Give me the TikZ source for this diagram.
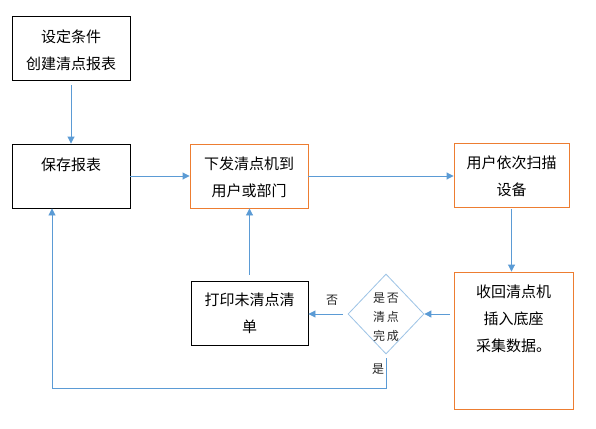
\documentclass[tikz,border=0pt]{standalone}
\usepackage{fontspec}
\setmainfont{Noto Sans CJK SC}
\newfontfamily\cjk{Noto Sans CJK SC}
\usetikzlibrary{shapes.geometric,arrows.meta}
\definecolor{arrblue}{RGB}{91,155,213}
\definecolor{boxorange}{RGB}{237,125,49}
\definecolor{dblue}{RGB}{157,195,230}
\tikzset{
  boxk/.style={draw=black,line width=0.9pt,rectangle,inner sep=0pt},
  boxo/.style={draw=boxorange,line width=0.9pt,rectangle,inner sep=0pt},
  txt/.style={font=\cjk\fontsize{15}{27}\selectfont,align=center,inner sep=0pt},
  small/.style={font=\cjk\fontsize{12}{19}\selectfont,align=center,inner sep=0pt,text=black!85},
  arr/.style={draw=arrblue,line width=0.9pt,-{Triangle[length=7pt,width=7pt]}},
}
\begin{document}
\begin{tikzpicture}[x=1pt,y=-1pt]
\useasboundingbox[fill=white] (0,0) rectangle (596,428);
\node[boxk,minimum width=118pt,minimum height=64pt] (b1) at (71,48) {};
\node[txt] (t1) at (71,50) {设定条件\\创建清点报表};
\node[boxk,minimum width=118pt,minimum height=64pt] (b2) at (71,176) {};
\node[txt] (t2) at (71,165) {保存报表};
\node[boxo,minimum width=118pt,minimum height=64pt] (b3) at (249,176) {};
\node[txt] (t3) at (249,177) {下发清点机到\\用户或部门};
\node[boxo,minimum width=115pt,minimum height=64pt] (b4) at (511.5,175) {};
\node[txt] (t4) at (511.5,176) {用户依次扫描\\设备};
\node[boxo,minimum width=119pt,minimum height=137pt] (b5) at (513.5,340.5) {};
\node[txt] (t5) at (513.5,319) {收回清点机\\插入底座\\采集数据。};
\node[boxk,minimum width=117pt,minimum height=64pt] (b6) at (249.5,313) {};
\node[txt] (t6) at (249.5,313.5) {打印未清点清\\单};
\node[diamond,draw=dblue,line width=0.8pt,minimum width=76pt,minimum height=80pt,inner sep=0pt] (d) at (386,314) {};
\node[small] (td) at (386,317) {是\,否\\清\,点\\完\,成};
\node[small] (no) at (332,300) {否};
\node[small] (yes) at (378,369) {是};
\coordinate (c1) at (386,388);
\draw[arr,shorten <=5pt] (b1) -- (b2);
\draw[arr] (b2.east) -- (b3.west);
\draw[arr] (b3.east) -- (b3.east -| b4.west);
\draw[arr,shorten <=2pt] (b4.south) -- (b4.south |- b5.north);
\draw[arr,shorten <=4pt] (d.east -| b5.west) -- (d.east);
\draw[arr,shorten <=5pt] (d.west) -- (d.west -| b6.east);
\draw[arr,shorten <=6pt] (b6.north) -- (b6.north |- b3.south);
\draw[arr,shorten <=4pt] (d.south) -- (c1) -| ([xshift=-19pt]b2.south);
\end{tikzpicture}
\end{document}
